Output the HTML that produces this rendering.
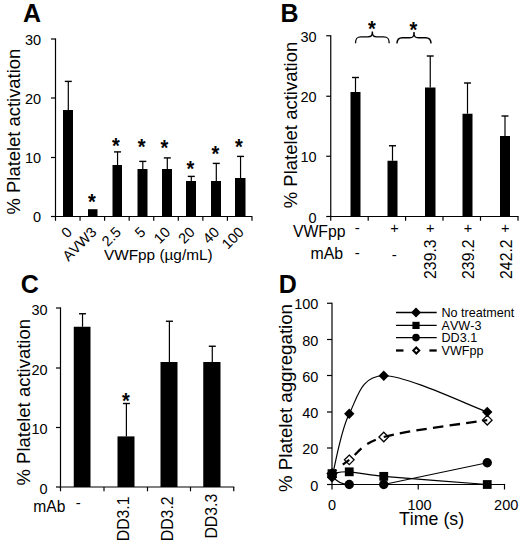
<!DOCTYPE html>
<html lang="en">
<head>
<meta charset="utf-8">
<title>Figure</title>
<style>
html,body{margin:0;padding:0;background:#fff;}
body{width:520px;height:549px;overflow:hidden;}
svg{display:block;}
svg text{font-family:"Liberation Sans", Arial, Helvetica, sans-serif;fill:#000;font-kerning:none;}
</style>
</head>
<body>
<svg width="520" height="549" viewBox="0 0 520 549">
<rect x="0" y="0" width="520" height="549" fill="#fff"/>
<line x1="55.50" y1="38.40" x2="55.50" y2="217.10" stroke="#000" stroke-width="1.2" />
<line x1="54.90" y1="216.50" x2="252.30" y2="216.50" stroke="#000" stroke-width="1.2" />
<line x1="51.00" y1="39.00" x2="55.50" y2="39.00" stroke="#000" stroke-width="1.2" />
<text x="41.20" y="44.80" font-size="14.5" text-anchor="end" font-weight="normal" >30</text>
<line x1="51.00" y1="98.00" x2="55.50" y2="98.00" stroke="#000" stroke-width="1.2" />
<text x="41.20" y="103.80" font-size="14.5" text-anchor="end" font-weight="normal" >20</text>
<line x1="51.00" y1="157.50" x2="55.50" y2="157.50" stroke="#000" stroke-width="1.2" />
<text x="41.20" y="163.30" font-size="14.5" text-anchor="end" font-weight="normal" >10</text>
<line x1="51.00" y1="216.50" x2="55.50" y2="216.50" stroke="#000" stroke-width="1.2" />
<text x="41.20" y="222.30" font-size="14.5" text-anchor="end" font-weight="normal" >0</text>
<line x1="55.50" y1="216.50" x2="55.50" y2="220.80" stroke="#000" stroke-width="1.2" />
<line x1="80.06" y1="216.50" x2="80.06" y2="220.80" stroke="#000" stroke-width="1.2" />
<line x1="104.62" y1="216.50" x2="104.62" y2="220.80" stroke="#000" stroke-width="1.2" />
<line x1="129.18" y1="216.50" x2="129.18" y2="220.80" stroke="#000" stroke-width="1.2" />
<line x1="153.74" y1="216.50" x2="153.74" y2="220.80" stroke="#000" stroke-width="1.2" />
<line x1="178.30" y1="216.50" x2="178.30" y2="220.80" stroke="#000" stroke-width="1.2" />
<line x1="202.86" y1="216.50" x2="202.86" y2="220.80" stroke="#000" stroke-width="1.2" />
<line x1="227.42" y1="216.50" x2="227.42" y2="220.80" stroke="#000" stroke-width="1.2" />
<line x1="251.98" y1="216.50" x2="251.98" y2="220.80" stroke="#000" stroke-width="1.2" />
<rect x="63.00" y="110.00" width="10.00" height="106.50" fill="#000"/>
<line x1="68.30" y1="110.00" x2="68.30" y2="81.40" stroke="#000" stroke-width="1.2" />
<line x1="64.80" y1="81.40" x2="71.80" y2="81.40" stroke="#000" stroke-width="1.4" />
<rect x="88.00" y="209.20" width="9.50" height="7.30" fill="#000"/>
<rect x="112.50" y="165.00" width="9.50" height="51.50" fill="#000"/>
<line x1="117.55" y1="165.00" x2="117.55" y2="151.90" stroke="#000" stroke-width="1.2" />
<line x1="114.05" y1="151.90" x2="121.05" y2="151.90" stroke="#000" stroke-width="1.4" />
<rect x="137.50" y="169.00" width="10.00" height="47.50" fill="#000"/>
<line x1="142.80" y1="169.00" x2="142.80" y2="161.40" stroke="#000" stroke-width="1.2" />
<line x1="139.30" y1="161.40" x2="146.30" y2="161.40" stroke="#000" stroke-width="1.4" />
<rect x="162.00" y="169.00" width="10.00" height="47.50" fill="#000"/>
<line x1="167.30" y1="169.00" x2="167.30" y2="157.90" stroke="#000" stroke-width="1.2" />
<line x1="163.80" y1="157.90" x2="170.80" y2="157.90" stroke="#000" stroke-width="1.4" />
<rect x="186.00" y="181.00" width="10.00" height="35.50" fill="#000"/>
<line x1="191.30" y1="181.00" x2="191.30" y2="176.40" stroke="#000" stroke-width="1.2" />
<line x1="187.80" y1="176.40" x2="194.80" y2="176.40" stroke="#000" stroke-width="1.4" />
<rect x="211.00" y="181.00" width="10.00" height="35.50" fill="#000"/>
<line x1="216.30" y1="181.00" x2="216.30" y2="163.40" stroke="#000" stroke-width="1.2" />
<line x1="212.80" y1="163.40" x2="219.80" y2="163.40" stroke="#000" stroke-width="1.4" />
<rect x="235.00" y="178.00" width="10.50" height="38.50" fill="#000"/>
<line x1="240.55" y1="178.00" x2="240.55" y2="156.40" stroke="#000" stroke-width="1.2" />
<line x1="237.05" y1="156.40" x2="244.05" y2="156.40" stroke="#000" stroke-width="1.4" />
<text transform="translate(92.00 197.70) scale(1 1.14)" x="0" y="9.62" font-size="20" text-anchor="middle" font-weight="bold">*</text>
<text transform="translate(116.00 141.70) scale(1 1.14)" x="0" y="9.62" font-size="20" text-anchor="middle" font-weight="bold">*</text>
<text transform="translate(141.70 143.20) scale(1 1.14)" x="0" y="9.62" font-size="20" text-anchor="middle" font-weight="bold">*</text>
<text transform="translate(164.50 144.20) scale(1 1.14)" x="0" y="9.62" font-size="20" text-anchor="middle" font-weight="bold">*</text>
<text transform="translate(190.50 165.20) scale(1 1.14)" x="0" y="9.62" font-size="20" text-anchor="middle" font-weight="bold">*</text>
<text transform="translate(215.50 150.20) scale(1 1.14)" x="0" y="9.62" font-size="20" text-anchor="middle" font-weight="bold">*</text>
<text transform="translate(239.00 143.20) scale(1 1.14)" x="0" y="9.62" font-size="20" text-anchor="middle" font-weight="bold">*</text>
<text x="72.88" y="233.00" font-size="14.5" text-anchor="end" font-weight="normal" transform="rotate(-45 72.88 233.00)" >0</text>
<text x="97.44" y="233.00" font-size="14.5" text-anchor="end" font-weight="normal" transform="rotate(-45 97.44 233.00)" >AVW3</text>
<text x="122.00" y="233.00" font-size="14.5" text-anchor="end" font-weight="normal" transform="rotate(-45 122.00 233.00)" >2.5</text>
<text x="146.56" y="233.00" font-size="14.5" text-anchor="end" font-weight="normal" transform="rotate(-45 146.56 233.00)" >5</text>
<text x="171.12" y="233.00" font-size="14.5" text-anchor="end" font-weight="normal" transform="rotate(-45 171.12 233.00)" >10</text>
<text x="195.68" y="233.00" font-size="14.5" text-anchor="end" font-weight="normal" transform="rotate(-45 195.68 233.00)" >20</text>
<text x="220.24" y="233.00" font-size="14.5" text-anchor="end" font-weight="normal" transform="rotate(-45 220.24 233.00)" >40</text>
<text x="244.80" y="233.00" font-size="14.5" text-anchor="end" font-weight="normal" transform="rotate(-45 244.80 233.00)" >100</text>
<text x="104.00" y="259.50" font-size="15.35" text-anchor="start" font-weight="normal" >VWFpp (µg/mL)</text>
<text x="20.00" y="131.60" font-size="18.4" text-anchor="middle" font-weight="normal" transform="rotate(-90 20.00 131.60)" >% Platelet activation</text>
<text x="22.90" y="21.90" font-size="25" text-anchor="start" font-weight="bold" >A</text>
<line x1="330.75" y1="35.15" x2="330.75" y2="217.10" stroke="#000" stroke-width="1.2" />
<line x1="330.15" y1="216.50" x2="518.60" y2="216.50" stroke="#000" stroke-width="1.2" />
<line x1="326.25" y1="35.75" x2="330.75" y2="35.75" stroke="#000" stroke-width="1.2" />
<text x="316.60" y="41.75" font-size="14.5" text-anchor="end" font-weight="normal" >30</text>
<line x1="326.25" y1="96.25" x2="330.75" y2="96.25" stroke="#000" stroke-width="1.2" />
<text x="316.60" y="102.25" font-size="14.5" text-anchor="end" font-weight="normal" >20</text>
<line x1="326.25" y1="156.25" x2="330.75" y2="156.25" stroke="#000" stroke-width="1.2" />
<text x="316.60" y="162.25" font-size="14.5" text-anchor="end" font-weight="normal" >10</text>
<line x1="326.25" y1="216.50" x2="330.75" y2="216.50" stroke="#000" stroke-width="1.2" />
<text x="316.60" y="222.50" font-size="14.5" text-anchor="end" font-weight="normal" >0</text>
<line x1="330.75" y1="216.50" x2="330.75" y2="220.80" stroke="#000" stroke-width="1.2" />
<line x1="368.20" y1="216.50" x2="368.20" y2="220.80" stroke="#000" stroke-width="1.2" />
<line x1="405.60" y1="216.50" x2="405.60" y2="220.80" stroke="#000" stroke-width="1.2" />
<line x1="443.00" y1="216.50" x2="443.00" y2="220.80" stroke="#000" stroke-width="1.2" />
<line x1="480.50" y1="216.50" x2="480.50" y2="220.80" stroke="#000" stroke-width="1.2" />
<line x1="518.00" y1="216.50" x2="518.00" y2="220.80" stroke="#000" stroke-width="1.2" />
<rect x="350.50" y="92.00" width="10.00" height="124.50" fill="#000"/>
<line x1="355.50" y1="92.00" x2="355.50" y2="77.50" stroke="#000" stroke-width="1.2" />
<line x1="352.00" y1="77.50" x2="359.00" y2="77.50" stroke="#000" stroke-width="1.4" />
<rect x="387.50" y="160.75" width="10.00" height="55.75" fill="#000"/>
<line x1="392.50" y1="160.75" x2="392.50" y2="145.75" stroke="#000" stroke-width="1.2" />
<line x1="389.00" y1="145.75" x2="396.00" y2="145.75" stroke="#000" stroke-width="1.4" />
<rect x="425.00" y="87.50" width="10.50" height="129.00" fill="#000"/>
<line x1="430.25" y1="87.50" x2="430.25" y2="56.00" stroke="#000" stroke-width="1.2" />
<line x1="426.75" y1="56.00" x2="433.75" y2="56.00" stroke="#000" stroke-width="1.4" />
<rect x="462.50" y="113.75" width="10.00" height="102.75" fill="#000"/>
<line x1="467.50" y1="113.75" x2="467.50" y2="83.00" stroke="#000" stroke-width="1.2" />
<line x1="464.00" y1="83.00" x2="471.00" y2="83.00" stroke="#000" stroke-width="1.4" />
<rect x="500.00" y="136.00" width="10.00" height="80.50" fill="#000"/>
<line x1="505.00" y1="136.00" x2="505.00" y2="116.00" stroke="#000" stroke-width="1.2" />
<line x1="501.50" y1="116.00" x2="508.50" y2="116.00" stroke="#000" stroke-width="1.4" />
<path d="M355.50,43.30 C355.50,38.30 357.00,36.80 361.00,36.80 L367.85,36.80 C371.35,36.80 372.35,35.80 372.35,31.50 C372.35,35.80 373.35,36.80 376.85,36.80 L383.70,36.80 C387.70,36.80 389.20,38.30 389.20,43.30" fill="none" stroke="#000" stroke-width="1.35"/>
<path d="M397.00,43.50 C397.00,39.20 398.50,37.70 402.50,37.70 L409.50,37.70 C413.00,37.70 414.00,36.70 414.00,32.00 C414.00,36.70 415.00,37.70 418.50,37.70 L425.50,37.70 C429.50,37.70 431.00,39.20 431.00,43.50" fill="none" stroke="#000" stroke-width="1.35"/>
<text transform="translate(372.00 24.70) scale(1 1.14)" x="0" y="9.62" font-size="20" text-anchor="middle" font-weight="bold">*</text>
<text transform="translate(413.30 25.70) scale(1 1.14)" x="0" y="9.62" font-size="20" text-anchor="middle" font-weight="bold">*</text>
<text x="345.60" y="237.30" font-size="15.8" text-anchor="end" font-weight="normal" >VWFpp</text>
<text x="343.20" y="258.50" font-size="15.9" text-anchor="end" font-weight="normal" >mAb</text>
<text x="357.20" y="233.00" font-size="15" text-anchor="middle" font-weight="normal" >-</text>
<text x="357.20" y="257.50" font-size="15" text-anchor="middle" font-weight="normal" >-</text>
<text x="394.30" y="259.50" font-size="15" text-anchor="middle" font-weight="normal" >-</text>
<text x="394.50" y="232.80" font-size="14.5" text-anchor="middle" font-weight="normal" >+</text>
<text x="430.30" y="232.80" font-size="14.5" text-anchor="middle" font-weight="normal" >+</text>
<text x="468.00" y="232.80" font-size="14.5" text-anchor="middle" font-weight="normal" >+</text>
<text x="505.30" y="232.80" font-size="14.5" text-anchor="middle" font-weight="normal" >+</text>
<text x="436.00" y="239.40" font-size="15.8" text-anchor="end" font-weight="normal" transform="rotate(-90 436.00 239.40)" >239.3</text>
<text x="473.60" y="239.40" font-size="15.8" text-anchor="end" font-weight="normal" transform="rotate(-90 473.60 239.40)" >239.2</text>
<text x="511.60" y="239.40" font-size="15.8" text-anchor="end" font-weight="normal" transform="rotate(-90 511.60 239.40)" >242.2</text>
<text x="297.00" y="125.00" font-size="18.5" text-anchor="middle" font-weight="normal" transform="rotate(-90 297.00 125.00)" >% Platelet activation</text>
<text x="280.40" y="21.90" font-size="25" text-anchor="start" font-weight="bold" >B</text>
<line x1="60.50" y1="307.40" x2="60.50" y2="487.60" stroke="#000" stroke-width="1.2" />
<line x1="59.90" y1="487.00" x2="234.30" y2="487.00" stroke="#000" stroke-width="1.2" />
<line x1="56.00" y1="308.00" x2="60.50" y2="308.00" stroke="#000" stroke-width="1.2" />
<text x="47.60" y="314.50" font-size="14.5" text-anchor="end" font-weight="normal" >30</text>
<line x1="56.00" y1="368.00" x2="60.50" y2="368.00" stroke="#000" stroke-width="1.2" />
<text x="47.60" y="374.50" font-size="14.5" text-anchor="end" font-weight="normal" >20</text>
<line x1="56.00" y1="427.50" x2="60.50" y2="427.50" stroke="#000" stroke-width="1.2" />
<text x="47.60" y="434.00" font-size="14.5" text-anchor="end" font-weight="normal" >10</text>
<line x1="56.00" y1="487.00" x2="60.50" y2="487.00" stroke="#000" stroke-width="1.2" />
<text x="47.60" y="493.50" font-size="14.5" text-anchor="end" font-weight="normal" >0</text>
<line x1="60.50" y1="487.00" x2="60.50" y2="491.30" stroke="#000" stroke-width="1.2" />
<line x1="104.00" y1="487.00" x2="104.00" y2="491.30" stroke="#000" stroke-width="1.2" />
<line x1="147.50" y1="487.00" x2="147.50" y2="491.30" stroke="#000" stroke-width="1.2" />
<line x1="190.50" y1="487.00" x2="190.50" y2="491.30" stroke="#000" stroke-width="1.2" />
<line x1="233.75" y1="487.00" x2="233.75" y2="491.30" stroke="#000" stroke-width="1.2" />
<rect x="73.75" y="326.75" width="16.75" height="160.25" fill="#000"/>
<line x1="82.53" y1="326.75" x2="82.53" y2="313.75" stroke="#000" stroke-width="1.2" />
<line x1="79.03" y1="313.75" x2="86.03" y2="313.75" stroke="#000" stroke-width="1.4" />
<rect x="117.50" y="436.40" width="17.00" height="50.60" fill="#000"/>
<line x1="126.40" y1="436.40" x2="126.40" y2="403.50" stroke="#000" stroke-width="1.2" />
<line x1="122.90" y1="403.50" x2="129.90" y2="403.50" stroke="#000" stroke-width="1.4" />
<rect x="160.50" y="362.00" width="17.00" height="125.00" fill="#000"/>
<line x1="169.40" y1="362.00" x2="169.40" y2="321.25" stroke="#000" stroke-width="1.2" />
<line x1="165.90" y1="321.25" x2="172.90" y2="321.25" stroke="#000" stroke-width="1.4" />
<rect x="203.25" y="362.00" width="17.25" height="125.00" fill="#000"/>
<line x1="212.28" y1="362.00" x2="212.28" y2="346.25" stroke="#000" stroke-width="1.2" />
<line x1="208.78" y1="346.25" x2="215.78" y2="346.25" stroke="#000" stroke-width="1.4" />
<text transform="translate(126.00 396.70) scale(1 1.14)" x="0" y="9.62" font-size="20" text-anchor="middle" font-weight="bold">*</text>
<text x="33.30" y="512.20" font-size="15.6" text-anchor="start" font-weight="normal" >mAb</text>
<text x="78.20" y="507.80" font-size="15" text-anchor="middle" font-weight="normal" >-</text>
<text x="129.00" y="496.50" font-size="15.8" text-anchor="end" font-weight="normal" transform="rotate(-90 129.00 496.50)" >DD3.1</text>
<text x="173.20" y="496.40" font-size="15.8" text-anchor="end" font-weight="normal" transform="rotate(-90 173.20 496.40)" >DD3.2</text>
<text x="216.60" y="493.80" font-size="15.8" text-anchor="end" font-weight="normal" transform="rotate(-90 216.60 493.80)" >DD3.3</text>
<text x="30.00" y="402.25" font-size="18.5" text-anchor="middle" font-weight="normal" transform="rotate(-90 30.00 402.25)" >% Platelet activation</text>
<text x="20.80" y="293.20" font-size="25" text-anchor="start" font-weight="bold" >C</text>
<line x1="332.00" y1="302.65" x2="332.00" y2="489.50" stroke="#000" stroke-width="1.2" />
<line x1="331.40" y1="484.50" x2="504.50" y2="484.50" stroke="#000" stroke-width="1.2" />
<line x1="327.00" y1="303.25" x2="332.00" y2="303.25" stroke="#000" stroke-width="1.2" />
<text x="318.40" y="309.35" font-size="14.5" text-anchor="end" font-weight="normal" >100</text>
<line x1="327.00" y1="339.50" x2="332.00" y2="339.50" stroke="#000" stroke-width="1.2" />
<text x="318.40" y="345.60" font-size="14.5" text-anchor="end" font-weight="normal" >80</text>
<line x1="327.00" y1="375.50" x2="332.00" y2="375.50" stroke="#000" stroke-width="1.2" />
<text x="318.40" y="381.60" font-size="14.5" text-anchor="end" font-weight="normal" >60</text>
<line x1="327.00" y1="412.00" x2="332.00" y2="412.00" stroke="#000" stroke-width="1.2" />
<text x="318.40" y="418.10" font-size="14.5" text-anchor="end" font-weight="normal" >40</text>
<line x1="327.00" y1="448.00" x2="332.00" y2="448.00" stroke="#000" stroke-width="1.2" />
<text x="318.40" y="454.10" font-size="14.5" text-anchor="end" font-weight="normal" >20</text>
<line x1="327.00" y1="484.50" x2="332.00" y2="484.50" stroke="#000" stroke-width="1.2" />
<text x="318.40" y="490.60" font-size="14.5" text-anchor="end" font-weight="normal" >0</text>
<line x1="418.25" y1="483.90" x2="418.25" y2="489.50" stroke="#000" stroke-width="1.2" />
<line x1="504.50" y1="483.90" x2="504.50" y2="489.50" stroke="#000" stroke-width="1.2" />
<text x="332.00" y="509.60" font-size="14.5" text-anchor="middle" font-weight="normal" >0</text>
<text x="419.50" y="509.60" font-size="14.5" text-anchor="middle" font-weight="normal" >100</text>
<text x="506.20" y="509.60" font-size="14.5" text-anchor="middle" font-weight="normal" >200</text>
<text x="399.00" y="524.50" font-size="17.8" text-anchor="start" font-weight="normal" >Time (s)</text>
<text x="292.00" y="398.00" font-size="18.7" text-anchor="middle" font-weight="normal" transform="rotate(-90 292.00 398.00)" >% Platelet aggregation</text>
<text x="278.80" y="292.90" font-size="25" text-anchor="start" font-weight="bold" >D</text>
<path d="M332.00,477.25 C334.88,466.68 340.62,430.73 349.25,413.81 C357.88,396.90 360.75,376.05 383.75,375.75 C406.75,375.45 470.00,405.96 487.25,412.00" fill="none" stroke="#000" stroke-width="1.2"/>
<path d="M332.00,473.62 C334.88,473.32 340.62,471.36 349.25,471.81 C357.88,472.27 360.75,474.23 383.75,476.34 C406.75,478.46 470.00,483.14 487.25,484.50" fill="none" stroke="#000" stroke-width="1.2"/>
<path d="M332.00,475.44 C336.00,481.44 341.25,484.50 349.25,484.50 L383.75,484.50 L487.25,462.75" fill="none" stroke="#000" stroke-width="1.2"/>
<path d="M332.00,468.82 L336.80,473.62 L332.00,478.43 L327.20,473.62 Z" fill="#fff" stroke="#000" stroke-width="1.3"/>
<path d="M349.25,455.05 L354.05,459.85 L349.25,464.65 L344.45,459.85 Z" fill="#fff" stroke="#000" stroke-width="1.3"/>
<path d="M383.75,432.21 L388.55,437.01 L383.75,441.81 L378.95,437.01 Z" fill="#fff" stroke="#000" stroke-width="1.3"/>
<path d="M487.25,415.36 L492.05,420.16 L487.25,424.96 L482.45,420.16 Z" fill="#fff" stroke="#000" stroke-width="1.3"/>
<path d="M332.00,473.62 C334.88,471.33 340.62,465.95 349.25,459.85" fill="none" stroke="#000" stroke-width="2.3" stroke-dasharray="6.08 8.0 8.0 200"/>
<path d="M349.25,459.85 C357.88,453.75 360.75,443.63 383.75,437.01" fill="none" stroke="#000" stroke-width="2.3" stroke-dasharray="0 7.3 9.5 7.3 9.5 200"/>
<path d="M383.75,437.01 C406.75,430.40 470.00,422.97 487.25,420.16" fill="none" stroke="#000" stroke-width="2.3" stroke-dasharray="10.4 6.3"/>
<path d="M332.00,472.05 L337.20,477.25 L332.00,482.45 L326.80,477.25 Z" fill="#000" stroke="#000" stroke-width="0"/>
<path d="M349.25,408.61 L354.45,413.81 L349.25,419.01 L344.05,413.81 Z" fill="#000" stroke="#000" stroke-width="0"/>
<path d="M383.75,370.55 L388.95,375.75 L383.75,380.95 L378.55,375.75 Z" fill="#000" stroke="#000" stroke-width="0"/>
<path d="M487.25,406.80 L492.45,412.00 L487.25,417.20 L482.05,412.00 Z" fill="#000" stroke="#000" stroke-width="0"/>
<rect x="327.60" y="469.23" width="8.80" height="8.80" fill="#000"/>
<rect x="344.85" y="467.41" width="8.80" height="8.80" fill="#000"/>
<rect x="379.35" y="471.94" width="8.80" height="8.80" fill="#000"/>
<rect x="482.85" y="480.10" width="8.80" height="8.80" fill="#000"/>
<circle cx="332.00" cy="475.44" r="4.7" fill="#000"/>
<circle cx="349.25" cy="484.50" r="4.7" fill="#000"/>
<circle cx="383.75" cy="484.50" r="4.7" fill="#000"/>
<circle cx="487.25" cy="462.75" r="4.7" fill="#000"/>
<line x1="396.00" y1="312.50" x2="436.70" y2="312.50" stroke="#000" stroke-width="1.4" />
<path d="M416.00,307.50 L421.00,312.50 L416.00,317.50 L411.00,312.50 Z" fill="#000" stroke="#000" stroke-width="0"/>
<line x1="396.00" y1="325.40" x2="436.70" y2="325.40" stroke="#000" stroke-width="1.4" />
<rect x="412.40" y="321.80" width="7.20" height="7.20" fill="#000"/>
<line x1="396.00" y1="337.60" x2="436.70" y2="337.60" stroke="#000" stroke-width="1.4" />
<circle cx="416.00" cy="337.60" r="3.8" fill="#000"/>
<line x1="396.00" y1="350.50" x2="403.50" y2="350.50" stroke="#000" stroke-width="2.3" />
<line x1="429.40" y1="350.50" x2="436.70" y2="350.50" stroke="#000" stroke-width="2.3" />
<path d="M416.30,347.50 L419.30,350.50 L416.30,353.50 L413.30,350.50 Z" fill="#fff" stroke="#000" stroke-width="2.0"/>
<text x="441.50" y="317.00" font-size="12.6" text-anchor="start" font-weight="normal" >No treatment</text>
<text x="441.50" y="329.80" font-size="12.6" text-anchor="start" font-weight="normal" >AVW-3</text>
<text x="441.50" y="342.00" font-size="12.6" text-anchor="start" font-weight="normal" >DD3.1</text>
<text x="441.50" y="354.60" font-size="12.6" text-anchor="start" font-weight="normal" >VWFpp</text>
</svg>
</body>
</html>
